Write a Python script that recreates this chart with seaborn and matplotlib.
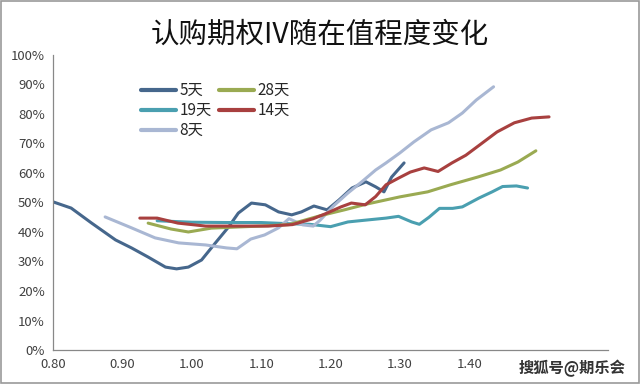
import numpy as np
import pandas as pd
import matplotlib
matplotlib.use("Agg")
import matplotlib.pyplot as plt
import seaborn as sns
from matplotlib.patches import Rectangle

title = "认购期权IV随在值程度变化"
series_names = ["5天", "19天", "8天", "28天", "14天"]

x_5 = [0.80, 0.826, 0.855, 0.89, 0.913, 0.937, 0.962, 0.978, 0.995, 1.014, 1.034, 1.053, 1.067, 1.086, 1.106,
       1.125, 1.144, 1.158, 1.176, 1.195, 1.212, 1.231, 1.251, 1.265, 1.277, 1.288, 1.306]
y_5 = [50.2, 48.1, 43.1, 37.3, 34.6, 31.5, 28.1, 27.5, 28.1, 30.5, 36.3, 41.7, 46.4, 49.8, 49.2,
       46.8, 45.8, 46.8, 48.8, 47.5, 50.8, 54.9, 57.0, 55.3, 53.6, 58.6, 63.4]

x_19 = [0.95, 1.00, 1.05, 1.10, 1.14, 1.17, 1.20, 1.225, 1.25, 1.28, 1.298, 1.317, 1.328, 1.342, 1.357,
        1.376, 1.39, 1.414, 1.433, 1.448, 1.468, 1.484]
y_19 = [43.8, 43.3, 43.2, 43.2, 42.8, 42.6, 41.8, 43.4, 44.0, 44.7, 45.3, 43.4, 42.6, 45.0, 48.0,
        48.0, 48.5, 51.5, 53.6, 55.4, 55.6, 54.9]

x_8 = [0.875, 0.913, 0.947, 0.981, 1.02, 1.05, 1.065, 1.085, 1.105, 1.125, 1.14, 1.16, 1.175, 1.185, 1.205,
       1.225, 1.245, 1.265, 1.28, 1.30, 1.32, 1.345, 1.37, 1.39, 1.41, 1.435]
y_8 = [45.1, 41.4, 38.0, 36.3, 35.6, 34.6, 34.3, 37.6, 39.0, 41.4, 44.5, 42.4, 42.0, 44.0, 49.0,
       53.2, 57.0, 61.0, 63.4, 66.8, 70.5, 74.6, 77.0, 80.3, 84.7, 89.2]

x_28 = [0.937, 0.97, 0.995, 1.028, 1.067, 1.10, 1.14, 1.185, 1.22, 1.253, 1.30, 1.34, 1.373, 1.412, 1.445,
        1.47, 1.496]
y_28 = [43.0, 41.0, 40.0, 41.3, 41.7, 42.0, 42.5, 45.5, 47.5, 49.5, 51.9, 53.6, 56.0, 58.6, 61.0,
        63.7, 67.5]

x_14 = [0.925, 0.95, 0.98, 1.02, 1.07, 1.11, 1.145, 1.175, 1.195, 1.215, 1.23, 1.25, 1.265, 1.28, 1.30,
        1.315, 1.335, 1.355, 1.375, 1.395, 1.415, 1.44, 1.465, 1.49, 1.515]
y_14 = [44.7, 44.7, 43.0, 42.0, 42.0, 42.0, 42.5, 44.5, 46.4, 48.5, 49.8, 49.2, 52.0, 56.0, 58.5,
        60.3, 61.7, 60.5, 63.4, 66.0, 69.5, 73.9, 77.0, 78.6, 79.0]

x_ticks = [0.80, 0.90, 1.00, 1.10, 1.20, 1.30, 1.40, 1.50, 1.60]
x_tick_labels = ["0.80", "0.90", "1.00", "1.10", "1.20", "1.30", "1.40", "", ""]
y_ticks = [0, 10, 20, 30, 40, 50, 60, 70, 80, 90, 100]
y_tick_labels = ["0%", "10%", "20%", "30%", "40%", "50%", "60%", "70%", "80%", "90%", "100%"]
watermark = "搜狐号@期乐会"

palette = {"5天": "#46678c", "19天": "#4a9fb0", "8天": "#a9b7d3", "28天": "#9aaa52", "14天": "#a8403f"}

frames = []
for name, xs, ys in [("5天", x_5, y_5), ("19天", x_19, y_19), ("8天", x_8, y_8),
                     ("28天", x_28, y_28), ("14天", x_14, y_14)]:
    frames.append(pd.DataFrame({"moneyness": xs, "iv": ys, "series": name}))
df = pd.concat(frames, ignore_index=True)

sns.set_style("white")
plt.rcParams["font.family"] = ["Noto Sans CJK SC", "DejaVu Sans"]

fig = plt.figure(figsize=(6.4, 3.84), dpi=100)
ax = fig.add_axes([0.083, 0.0885, 0.867, 0.7685])

sns.lineplot(data=df, x="moneyness", y="iv", hue="series", hue_order=series_names,
             palette=palette, linewidth=2.2, ax=ax, estimator=None, sort=False)

ax.set_xlim(0.80, 1.60)
ax.set_ylim(0, 100)
ax.set_xticks(x_ticks)
ax.set_xticklabels(x_tick_labels)
ax.set_yticks(y_ticks)
ax.set_yticklabels(y_tick_labels)
ax.set_xlabel("")
ax.set_ylabel("")
ax.tick_params(axis="both", direction="in", length=4, width=0.8, colors="#888888",
               labelcolor="#404040", labelsize=9.5, pad=6)
for s in ["top", "right"]:
    ax.spines[s].set_visible(False)
for s in ["left", "bottom"]:
    ax.spines[s].set_color("#888888")
    ax.spines[s].set_linewidth(0.9)

leg = ax.legend(ncol=2, loc="upper left", bbox_to_anchor=(0.133, 0.955), frameon=False,
                fontsize=11, handlelength=2.3, columnspacing=0.45, labelspacing=0.2,
                handletextpad=0.25)
for line in leg.get_lines():
    line.set_linewidth(3)

fig.text(0.5, 0.91, title, ha="center", va="center", fontsize=20.5, color="#111111")
fig.text(0.978, 0.04, watermark, ha="right", va="center", fontsize=11, fontweight="bold",
         color="#333333")
fig.patches.append(Rectangle((0.002, 0.003), 0.996, 0.994, transform=fig.transFigure,
                             fill=False, edgecolor="#999999", linewidth=1.2))

fig.savefig("out.png", dpi=100)
